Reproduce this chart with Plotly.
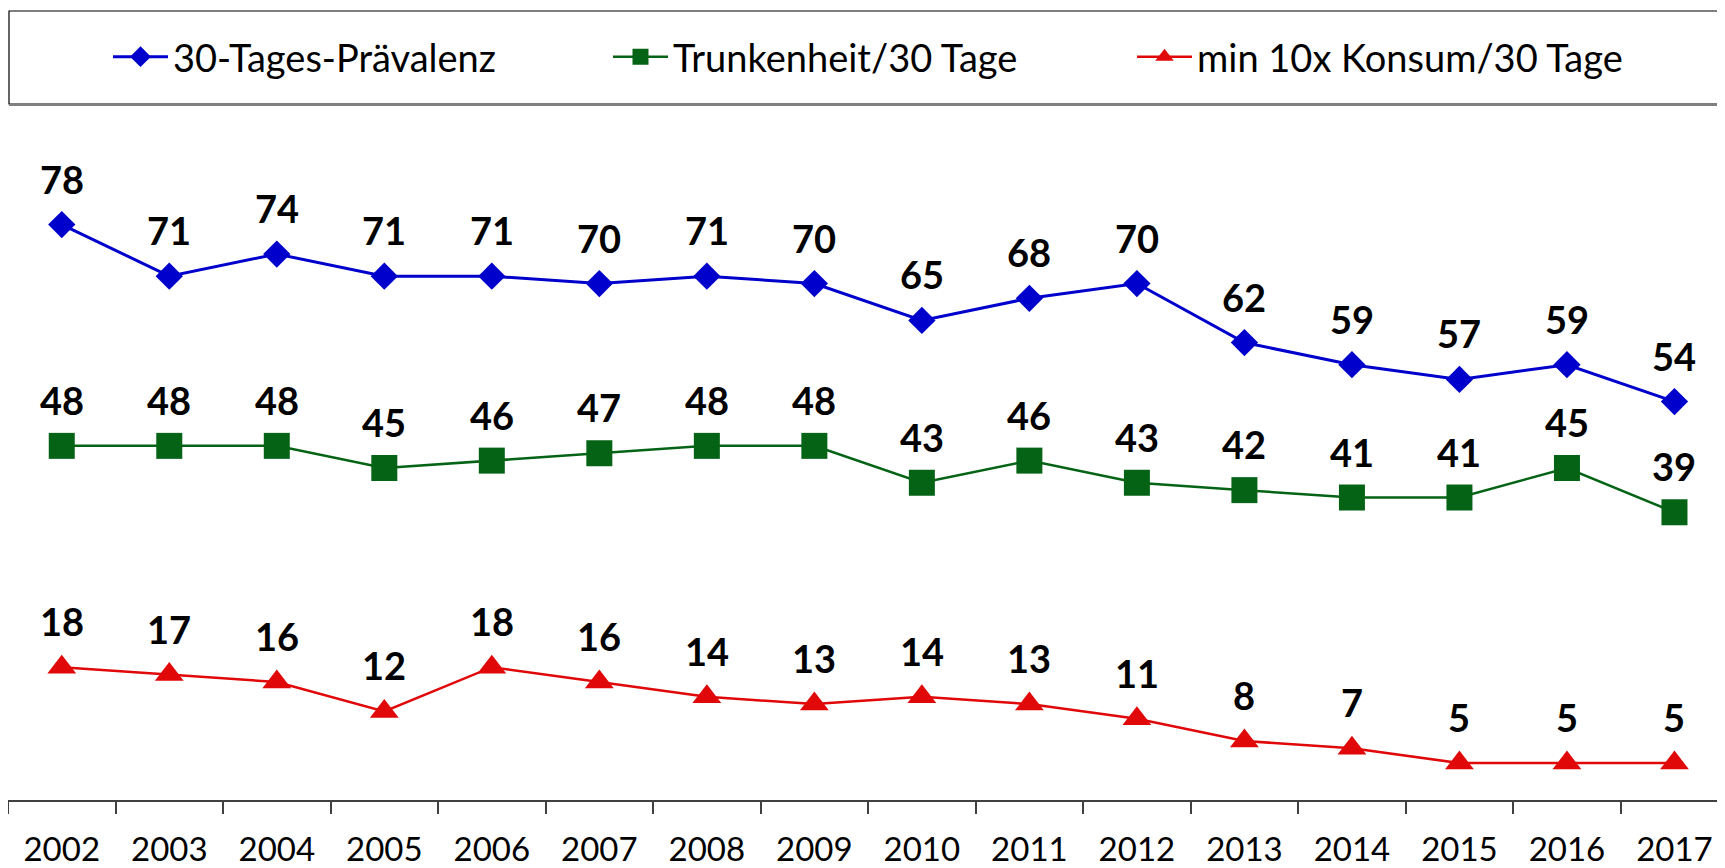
import plotly.graph_objects as go

years = ["2002", "2003", "2004", "2005", "2006", "2007", "2008", "2009",
         "2010", "2011", "2012", "2013", "2014", "2015", "2016", "2017"]
praevalenz = [78, 71, 74, 71, 71, 70, 71, 70, 65, 68, 70, 62, 59, 57, 59, 54]
trunkenheit = [48, 48, 48, 45, 46, 47, 48, 48, 43, 46, 43, 42, 41, 41, 45, 39]
konsum10 = [18, 17, 16, 12, 18, 16, 14, 13, 14, 13, 11, 8, 7, 5, 5, 5]

names = ["30-Tages-Prävalenz", "Trunkenheit/30 Tage", "min 10x Konsum/30 Tage"]
series = [praevalenz, trunkenheit, konsum10]

# page body has an 8px margin, so the figure is 8px smaller than the window
OFF = 8
W, H = 1725 - OFF, 868 - OFF
ML, MR, MT, MB = 0, 0, 136 - OFF, 68

colors = ["#0000cc", "#046314", "#e00808"]
symbols = ["diamond", "square", "triangle-up"]
msizes = [21, 26, 25]
lwidths = [3, 2.5, 2.5]
legend_ids = ["legend", "legend2", "legend3"]
legend_px = [100, 600, 1124]

fig = go.Figure()
annotations = []
for i, (nm, vals) in enumerate(zip(names, series)):
    fig.add_trace(go.Scatter(
        x=years, y=vals, name=nm, mode="lines+markers",
        line=dict(color=colors[i], width=lwidths[i]),
        marker=dict(symbol=symbols[i], size=msizes[i], color=colors[i]),
        legend=legend_ids[i], cliponaxis=False,
    ))
    for k, yv in enumerate(vals):
        annotations.append(dict(
            x=k, y=yv, xref="x", yref="y", text="<b>%d</b>" % yv,
            showarrow=False, yanchor="middle", xanchor="center", yshift=46,
            font=dict(family="Lato", size=38, color="black"),
        ))

legend_common = dict(
    orientation="h", xref="container", yref="container",
    xanchor="left", yanchor="middle", y=1 - (57 - OFF) / H,
    bgcolor="rgba(0,0,0,0)", borderwidth=0, itemwidth=55,
    font=dict(family="Lato", size=38, color="black"),
)
layout_legends = {}
for lid, px in zip(legend_ids, legend_px):
    layout_legends[lid] = dict(legend_common, x=px / W)

plot_w = W - ML - MR
plot_h = H - MT - MB


def px2paper_x(px):
    return (px - OFF - ML) / plot_w


def px2paper_y(py):
    return (H - MB - (py - OFF)) / plot_h


shapes = [
    dict(type="rect", xref="paper", yref="paper",
         x0=px2paper_x(9), x1=px2paper_x(1725 + 20),
         y0=px2paper_y(104), y1=px2paper_y(11),
         line=dict(color="black", width=1.2), fillcolor="rgba(0,0,0,0)"),
    dict(type="line", xref="paper", yref="paper",
         x0=px2paper_x(9), x1=px2paper_x(1725 + 20),
         y0=px2paper_y(105), y1=px2paper_y(105),
         line=dict(color="#808080", width=2)),
]

fig.update_layout(
    width=W, height=H,
    margin=dict(l=ML, r=MR, t=MT, b=MB, autoexpand=False),
    paper_bgcolor="white", plot_bgcolor="white",
    showlegend=True,
    annotations=annotations,
    shapes=shapes,
    xaxis=dict(
        type="category", range=[-0.5, 15.47], tickson="boundaries",
        ticks="outside", ticklen=12, tickwidth=1.5, tickcolor="#404040",
        showline=True, linecolor="#404040", linewidth=1.5,
        showgrid=False, zeroline=False, automargin=False,
        tickfont=dict(family="Lato", size=33, color="black"),
        ticklabelstandoff=20,
    ),
    yaxis=dict(range=[0, 90], visible=False, showgrid=False, zeroline=False,
               automargin=False),
    **layout_legends,
)

fig.write_html("out.html")
